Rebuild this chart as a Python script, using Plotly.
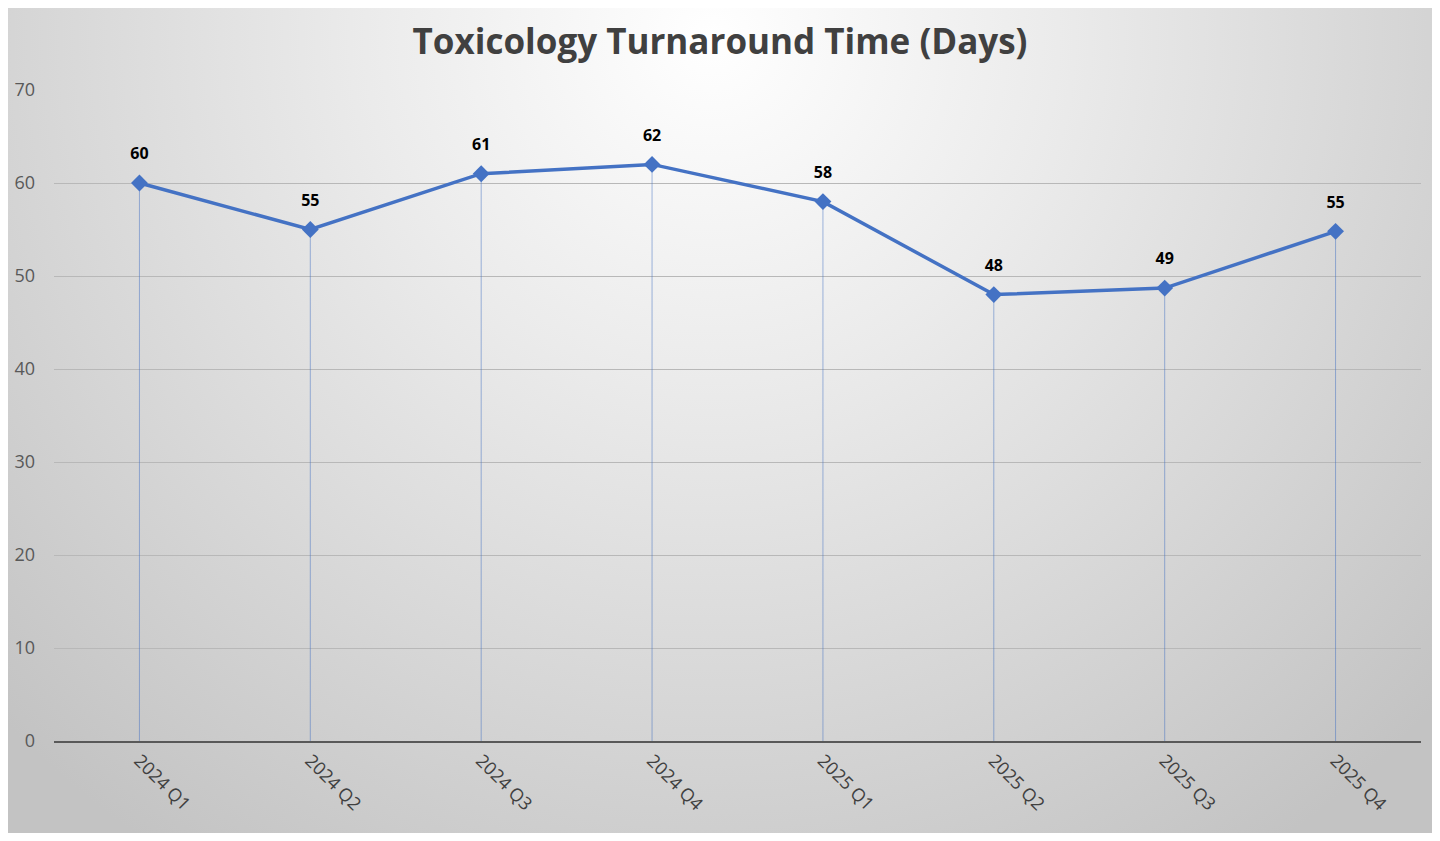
import plotly.graph_objects as go
import urllib.parse

quarters = ["2024 Q1", "2024 Q2", "2024 Q3", "2024 Q4", "2025 Q1", "2025 Q2", "2025 Q3", "2025 Q4"]
days = [60, 55, 61, 62, 58, 48, 48.7, 54.8]
y_ticks = [0, 10, 20, 30, 40, 50, 60, 70]

# page body has an 8px margin on every side: size the figure to fit inside it
OFF = 8
W, H = 1440 - 2 * OFF, 841 - 2 * OFF
ML, MT = 54 - OFF, 90 - OFF
MR = (W + OFF) - 1421
MB = (H + OFF) - 741
pw, ph = W - ML - MR, H - MT - MB

svg = (
    "<svg xmlns='http://www.w3.org/2000/svg' width='1440' height='841' viewBox='0 0 1440 841' preserveAspectRatio='none'>"
    "<defs><radialGradient id='g' cx='712' cy='30' r='1000' gradientUnits='userSpaceOnUse'>"
    "<stop offset='0' stop-color='#ffffff'/><stop offset='0.35' stop-color='#ebebeb'/>"
    "<stop offset='1' stop-color='#c3c3c3'/></radialGradient></defs>"
    "<rect width='1440' height='841' fill='url(#g)'/></svg>"
)
bg_src = "data:image/svg+xml;charset=utf-8," + urllib.parse.quote(svg)

fig = go.Figure()
fig.add_trace(go.Scatter(
    x=quarters, y=days,
    mode="lines+markers",
    line=dict(color="#4472C4", width=3.5),
    marker=dict(symbol="diamond", size=13, color="#4472C4"),
    error_y=dict(type="data", symmetric=False, array=[0] * len(days), arrayminus=days,
                 color="rgba(68,114,196,0.5)", thickness=1, width=0),
    cliponaxis=False,
    showlegend=False,
    hoverinfo="x+y",
))
# data labels (invisible larger marker gives the label offset)
fig.add_trace(go.Scatter(
    x=quarters, y=days,
    mode="markers+text",
    marker=dict(size=30, color="rgba(0,0,0,0)"),
    text=[f"{v:.0f}" for v in days],
    textposition="top center",
    textfont=dict(family="Open Sans", size=16, color="#000000", weight="bold"),
    cliponaxis=False,
    showlegend=False,
    hoverinfo="skip",
))

fig.update_layout(
    width=W, height=H,
    margin=dict(l=ML, r=MR, t=MT, b=MB, autoexpand=False),
    paper_bgcolor="#d6d6d6",
    plot_bgcolor="rgba(0,0,0,0)",
    title=dict(text="<b>Toxicology Turnaround Time (Days)</b>", x=0.5,
               xref="container", xanchor="center",
               y=1 - (42 - OFF) / H, yanchor="middle",
               font=dict(family="Open Sans", size=35, color="#404040")),
    images=[dict(source=bg_src, xref="paper", yref="paper",
                 x=-ML / pw, y=1 + MT / ph, sizex=W / pw, sizey=H / ph,
                 xanchor="left", yanchor="top", sizing="stretch", layer="below")],
    xaxis=dict(
        type="category", range=[-0.5, len(quarters) - 0.5], automargin=False,
        tickangle=45, showgrid=False, showline=True, linecolor="#595959", linewidth=2,
        ticks="", tickfont=dict(family="Open Sans", size=18, color="#404040"),
        zeroline=False,
    ),
    yaxis=dict(
        range=[0, 70], tickvals=y_ticks, automargin=False,
        showgrid=True, gridcolor="#b8b8b8", gridwidth=1,
        zeroline=False, showline=False, ticks="", ticklen=0, ticklabelstandoff=18,
        tickfont=dict(family="Open Sans", size=18, color="#595959"),
    ),
)

fig.write_html("out.html")
